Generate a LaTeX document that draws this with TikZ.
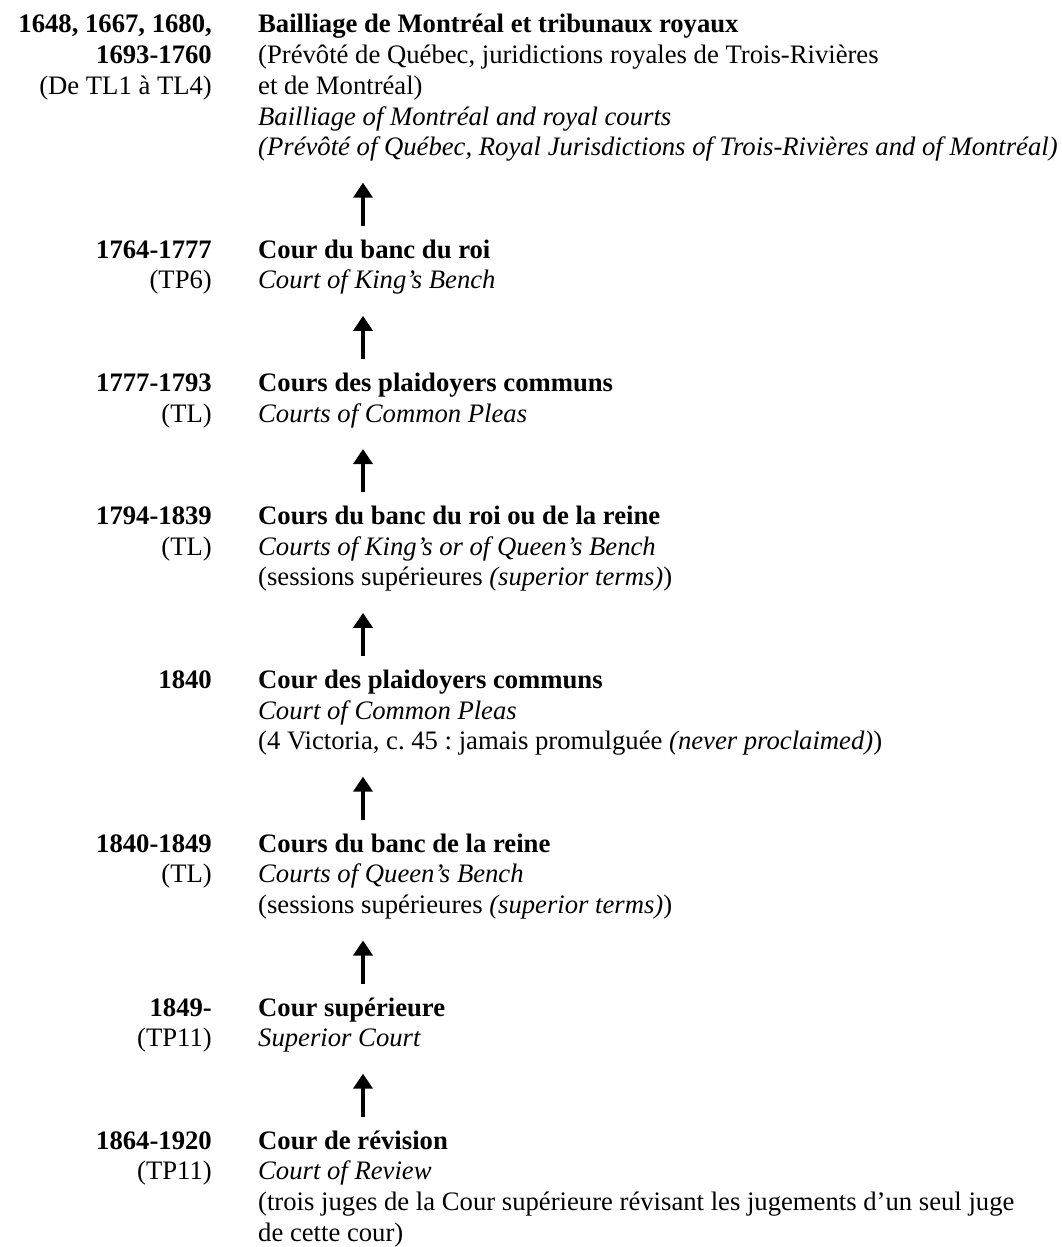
\documentclass[tikz,border=0pt]{standalone}
\usepackage{fontspec}
\setmainfont{Liberation Serif}
\usetikzlibrary{arrows.meta}
\frenchspacing
\begin{document}
\fontsize{26.67pt}{30.67pt}\selectfont
\begin{tikzpicture}[x=1pt,y=-1pt,
  lt/.style={anchor=base east,inner sep=0pt},
  rt/.style={anchor=base west,inner sep=0pt},
  arr/.style={line width=3.6pt,-{Triangle[width=19pt,length=15pt]}}]
\useasboundingbox[fill=white] (0,0) rectangle (1062,1247);
% block 1
\node[lt] (d1a) at (212,33) {\bfseries 1648, 1667, 1680,};
\node[lt] (d1b) at (212,63.67) {\bfseries 1693-1760};
\node[lt] (d1c) at (212,94.33) {(De TL1 à TL4)};
\node[rt] (c1a) at (258,33) {\bfseries Bailliage de Montréal et tribunaux royaux};
\node[rt] (c1b) at (258,63.67) {(Prévôté de Québec, juridictions royales de Trois-Rivières};
\node[rt] (c1c) at (258,94.33) {et de Montréal)};
\node[rt] (c1d) at (258,125) {\itshape Bailliage of Montréal and royal courts};
\node[rt] (c1e) at (258,155.67) {\itshape (Prévôté of Québec, Royal Jurisdictions of Trois-Rivières and of Montréal)};
% block 2
\node[lt] (d2a) at (212,258.17) {\bfseries 1764-1777};
\node[lt] (d2b) at (212,288.83) {(TP6)};
\node[rt] (c2a) at (258,258.17) {\bfseries Cour du banc du roi};
\node[rt] (c2b) at (258,288.83) {\itshape Court of King’s Bench};
% block 3
\node[lt] (d3a) at (212,391.33) {\bfseries 1777-1793};
\node[lt] (d3b) at (212,422) {(TL)};
\node[rt] (c3a) at (258,391.33) {\bfseries Cours des plaidoyers communs};
\node[rt] (c3b) at (258,422) {\itshape Courts of Common Pleas};
% block 4
\node[lt] (d4a) at (212,524.5) {\bfseries 1794-1839};
\node[lt] (d4b) at (212,555.17) {(TL)};
\node[rt] (c4a) at (258,524.5) {\bfseries Cours du banc du roi ou de la reine};
\node[rt] (c4b) at (258,555.17) {\itshape Courts of King’s or of Queen’s Bench};
\node[rt] (c4c) at (258,585.83) {(sessions supérieures \textit{(superior terms)})};
% block 5
\node[lt] (d5a) at (212,688.33) {\bfseries 1840};
\node[rt] (c5a) at (258,688.33) {\bfseries Cour des plaidoyers communs};
\node[rt] (c5b) at (258,719) {\itshape Court of Common Pleas};
\node[rt] (c5c) at (258,749.67) {(4 Victoria, c. 45 : jamais promulguée \textit{(never proclaimed)})};
% block 6
\node[lt] (d6a) at (212,852.17) {\bfseries 1840-1849};
\node[lt] (d6b) at (212,882.83) {(TL)};
\node[rt] (c6a) at (258,852.17) {\bfseries Cours du banc de la reine};
\node[rt] (c6b) at (258,882.83) {\itshape Courts of Queen’s Bench};
\node[rt] (c6c) at (258,913.5) {(sessions supérieures \textit{(superior terms)})};
% block 7
\node[lt] (d7a) at (212,1016) {\bfseries 1849-};
\node[lt] (d7b) at (212,1046.67) {(TP11)};
\node[rt] (c7a) at (258,1016) {\bfseries Cour supérieure};
\node[rt] (c7b) at (258,1046.67) {\itshape Superior Court};
% block 8
\node[lt] (d8a) at (212,1149.17) {\bfseries 1864-1920};
\node[lt] (d8b) at (212,1179.83) {(TP11)};
\node[rt] (c8a) at (258,1149.17) {\bfseries Cour de révision};
\node[rt] (c8b) at (258,1179.83) {\itshape Court of Review};
\node[rt] (c8c) at (258,1210.5) {(trois juges de la Cour supérieure révisant les jugements d’un seul juge};
\node[rt] (c8d) at (258,1241.17) {de cette cour)};
% arrows: each court succeeds the one above it
\foreach \i/\top/\bot in {1/182.67/225.67, 2/315.83/358.83, 3/449/492,
    4/612.83/655.83, 5/776.67/819.67, 6/940.5/983.5, 7/1073.67/1116.67} {
  \coordinate (as\i) at (363,\bot);
  \coordinate (ae\i) at (363,\top);
  \draw[arr] (as\i) -- (ae\i);
}
\end{tikzpicture}
\end{document}
